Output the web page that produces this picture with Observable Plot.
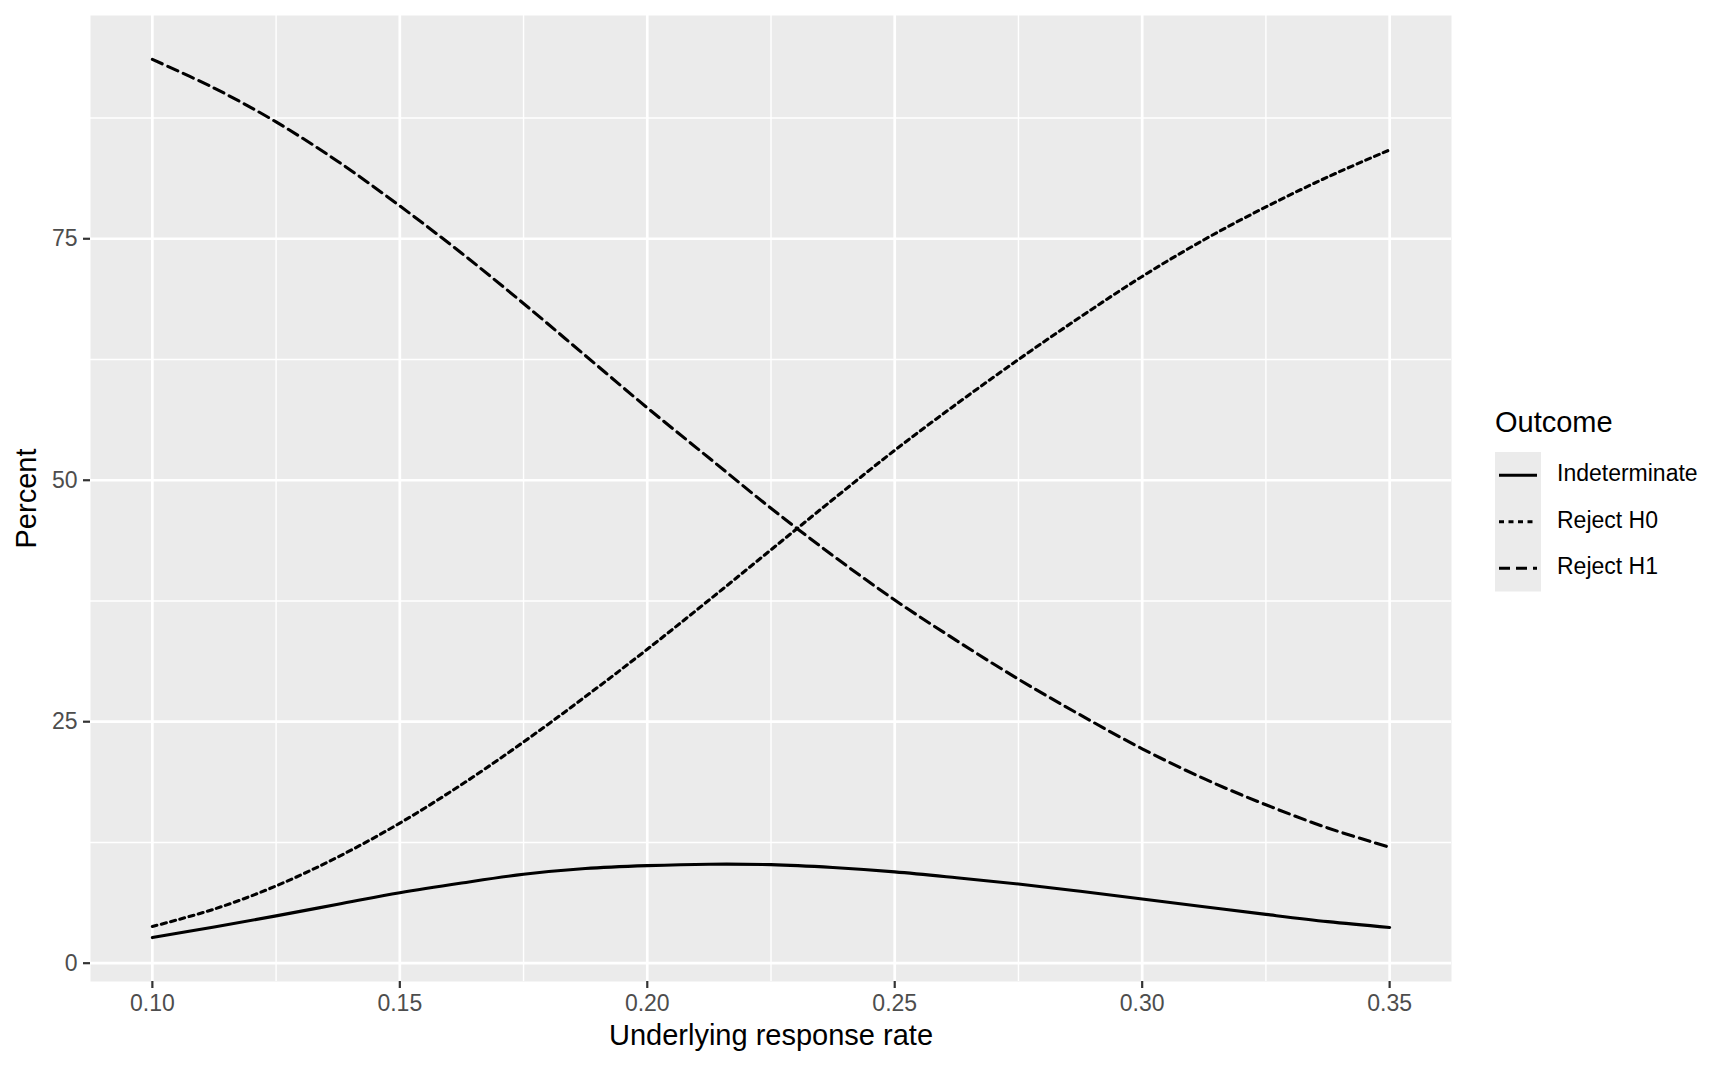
<!DOCTYPE html>
<html><head><meta charset="utf-8">
<script src="https://cdn.jsdelivr.net/npm/d3@7"></script>
<script src="https://cdn.jsdelivr.net/npm/@observablehq/plot@0.6"></script>
<style>
html,body{margin:0;padding:0;background:#fff;}
#wrap{position:relative;width:1728px;height:1067px;font-family:"Liberation Sans",Arial,sans-serif;}
#legend{position:absolute;left:1490px;top:395px;}
</style></head><body><div id="wrap"></div>
<script>
// Data
const rate = [0.1000, 0.1125, 0.1250, 0.1375, 0.1500, 0.1625, 0.1750, 0.1875, 0.2000, 0.2125, 0.2250,
              0.2375, 0.2500, 0.2625, 0.2750, 0.2875, 0.3000, 0.3125, 0.3250, 0.3375, 0.3500];
const rejectH1 = [93.57, 90.6, 87.1, 83.0, 78.4, 73.5, 68.3, 62.9, 57.5, 52.3, 47.1,
                  42.2, 37.6, 33.4, 29.4, 25.7, 22.2, 19.1, 16.4, 14.0, 12.0];
const rejectH0 = [3.8, 5.6, 8.0, 11.0, 14.5, 18.5, 22.9, 27.6, 32.5, 37.6, 42.8,
                  48.0, 53.1, 57.9, 62.5, 66.9, 71.1, 74.9, 78.3, 81.4, 84.2];
const indeterminate = [2.65, 3.75, 4.9, 6.1, 7.3, 8.3, 9.2, 9.8, 10.1, 10.25, 10.2,
                       9.9, 9.45, 8.85, 8.2, 7.45, 6.65, 5.85, 5.05, 4.3, 3.7];
const outcomes = ["Indeterminate", "Reject H0", "Reject H1"];
const xTicks = [0.10, 0.15, 0.20, 0.25, 0.30, 0.35];
const xMinor = [0.125, 0.175, 0.225, 0.275, 0.325];
const yTicks = [0, 25, 50, 75];
const yMinor = [12.5, 37.5, 62.5, 87.5];
const xTitle = "Underlying response rate";
const yTitle = "Percent";
const legendTitle = "Outcome";

const dashes = {"Indeterminate": null, "Reject H0": "5,4.5", "Reject H1": "11,6"};
const seriesValues = {"Indeterminate": indeterminate, "Reject H0": rejectH0, "Reject H1": rejectH1};

const rows = [];
outcomes.forEach(o => rate.forEach((r, i) => rows.push({rate: r, pct: seriesValues[o][i], outcome: o})));

const expand = ([a, b]) => { const d = (b - a) * 0.05; return [a - d, b + d]; };
const xDomain = expand(d3.extent(rate));
const yDomain = expand(d3.extent(rows, d => d.pct));

const FONT = '"Liberation Sans", Arial, sans-serif';
const TICK_FS = 23, TITLE_FS = 29, LEG_FS = 23;

const plot = Plot.plot({
  width: 1728, height: 1067,
  marginLeft: 90, marginRight: 277, marginTop: 15, marginBottom: 86,
  style: {fontFamily: FONT, background: "#fff", overflow: "visible"},
  x: {domain: xDomain},
  y: {domain: yDomain},
  marks: [
    Plot.frame({fill: "#EBEBEB", stroke: null}),
    Plot.gridX(xMinor, {stroke: "#fff", strokeOpacity: 1, strokeWidth: 1.4}),
    Plot.gridY(yMinor, {stroke: "#fff", strokeOpacity: 1, strokeWidth: 1.4}),
    Plot.gridX(xTicks, {stroke: "#fff", strokeOpacity: 1, strokeWidth: 2.7}),
    Plot.gridY(yTicks, {stroke: "#fff", strokeOpacity: 1, strokeWidth: 2.7}),
    ...outcomes.map(o => Plot.line(rows.filter(d => d.outcome === o), {
      x: "rate", y: "pct", stroke: "#000", strokeWidth: 3.1,
      strokeDasharray: dashes[o], curve: "catmull-rom"
    })),
    Plot.axisX({ticks: xTicks, tickFormat: d3.format(".2f"), tickSize: 7, tickPadding: 6,
      fontSize: TICK_FS, fill: "#4D4D4D", stroke: "#333333", strokeWidth: 2.2, label: null}),
    Plot.axisY({ticks: yTicks, tickFormat: d3.format("d"), tickSize: 7, tickPadding: 6,
      fontSize: TICK_FS, fill: "#4D4D4D", stroke: "#333333", strokeWidth: 2.2, label: null}),
    Plot.text([xTitle], {text: d => d, frameAnchor: "bottom", textAnchor: "middle", dy: 63,
      fontSize: TITLE_FS, fill: "#000"}),
    Plot.text([yTitle], {text: d => d, frameAnchor: "left", textAnchor: "middle", lineAnchor: "middle",
      rotate: -90, dx: -64, fontSize: TITLE_FS, fill: "#000"})
  ]
});
document.getElementById("wrap").appendChild(plot);

// Legend (overlay to the right of the panel)
const leg = d3.select("#wrap").append("svg")
  .attr("id", "legend").attr("width", 236).attr("height", 205)
  .style("font-family", FONT);
leg.append("text").attr("x", 5).attr("y", 29).attr("dominant-baseline", "middle")
  .attr("font-size", TITLE_FS).attr("fill", "#000").text(legendTitle);
const rowH = 46.5, top0 = 57;
leg.append("rect").attr("x", 5).attr("y", top0).attr("width", 46).attr("height", rowH * outcomes.length)
  .attr("fill", "#EBEBEB");
const g = leg.selectAll("g.key").data(outcomes).join("g").attr("class", "key")
  .attr("transform", (d, i) => `translate(0,${top0 + rowH * i + rowH / 2})`);
g.append("line").attr("x1", 9).attr("x2", 47).attr("y1", 0).attr("y2", 0)
  .attr("stroke", "#000").attr("stroke-width", 3.1)
  .attr("stroke-dasharray", d => dashes[d]);
g.append("text").attr("x", 67).attr("y", 0).attr("dominant-baseline", "middle")
  .attr("font-size", LEG_FS).attr("fill", "#000").text(d => d);
</script>
</body></html>
